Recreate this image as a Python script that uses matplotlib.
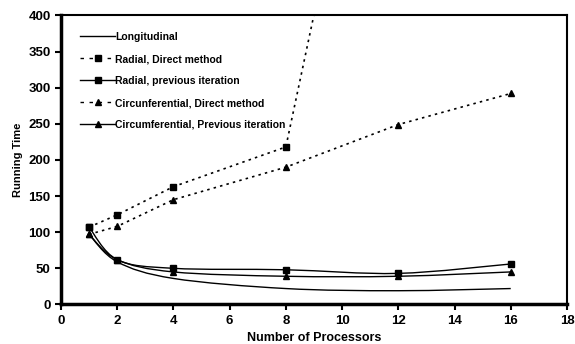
import matplotlib.pyplot as plt
import numpy as np
from matplotlib.path import Path
from matplotlib.patches import PathPatch
from matplotlib.lines import Line2D

plt.rcParams['font.family'] = ['Liberation Sans', 'DejaVu Sans']
plt.rcParams['font.weight'] = 'bold'

procs = [1, 2, 4, 8, 12, 16]
longitudinal = [97, 59, 36, 22, 19, 22]
radial_direct = [107, 124, 163, 218, 950, 1600]
radial_prev = [107, 62, 50, 48, 43, 56]
circ_direct = [97, 108, 145, 190, 249, 292]
circ_prev = [97, 62, 45, 39, 39, 45]

LABELS = ['Longitudinal', 'Radial, Direct method', 'Radial, previous iteration',
          'Circunferential, Direct method', 'Circumferential, Previous iteration']


def smooth_path(x, y):
    # Excel style smoothed line: cubic bezier segments through every point
    p = np.column_stack([x, y]).astype(float)
    verts = [p[0]]
    codes = [Path.MOVETO]
    n = len(p)
    for i in range(n - 1):
        p0 = p[i - 1] if i > 0 else p[i]
        p1, p2 = p[i], p[i + 1]
        p3 = p[i + 2] if i + 2 < n else p[i + 1]
        verts += [p1 + (p2 - p0) / 6, p2 - (p3 - p1) / 6, p2]
        codes += [Path.CURVE4] * 3
    return Path(verts, codes)


fig, ax = plt.subplots(figsize=(5.75, 3.44), dpi=100)
fig.subplots_adjust(left=0.106, right=0.986, bottom=0.115, top=0.955)

DOT = (0, (1.5, 2.5))
series = [
    (longitudinal, None, 'solid'),
    (radial_direct, 's', DOT),
    (radial_prev, 's', 'solid'),
    (circ_direct, '^', DOT),
    (circ_prev, '^', 'solid'),
]

handles = []
for (vals, mk, ls), lab in zip(series, LABELS):
    if ls == 'solid':
        patch = PathPatch(smooth_path(procs, vals), facecolor='none', edgecolor='black',
                          linewidth=1.0)
        ax.add_patch(patch)
    else:
        ax.plot(procs, vals, color='black', linewidth=1.2, linestyle=ls)
    if mk is not None:
        ax.plot(procs, vals, linestyle='none', marker=mk, color='black', markersize=5)
    handles.append(Line2D([], [], color='black', linewidth=1.0,
                          linestyle=ls if ls == 'solid' else (0, (2.5, 4)),
                          marker=mk, markersize=4))

ax.set_xlim(0, 18)
ax.set_ylim(0, 400)
ax.set_xticks(range(0, 19, 2))
ax.set_yticks(range(0, 401, 50))
ax.tick_params(direction='out', length=4, width=1.5, labelsize=9.5)
for s in ax.spines.values():
    s.set_linewidth(1.5)
ax.spines['left'].set_linewidth(2.5)
ax.spines['bottom'].set_linewidth(2.5)

ax.set_xlabel('Number of Processors', fontsize=9, fontweight='bold')
ax.set_ylabel('Running Time', fontsize=8, fontweight='bold')

ax.legend(handles, LABELS, loc='upper left', frameon=False, fontsize=7.5,
          handlelength=3.3, handletextpad=0.05, labelspacing=1.15,
          bbox_to_anchor=(0.02, 0.975))

plt.savefig('out.png', dpi=100)
